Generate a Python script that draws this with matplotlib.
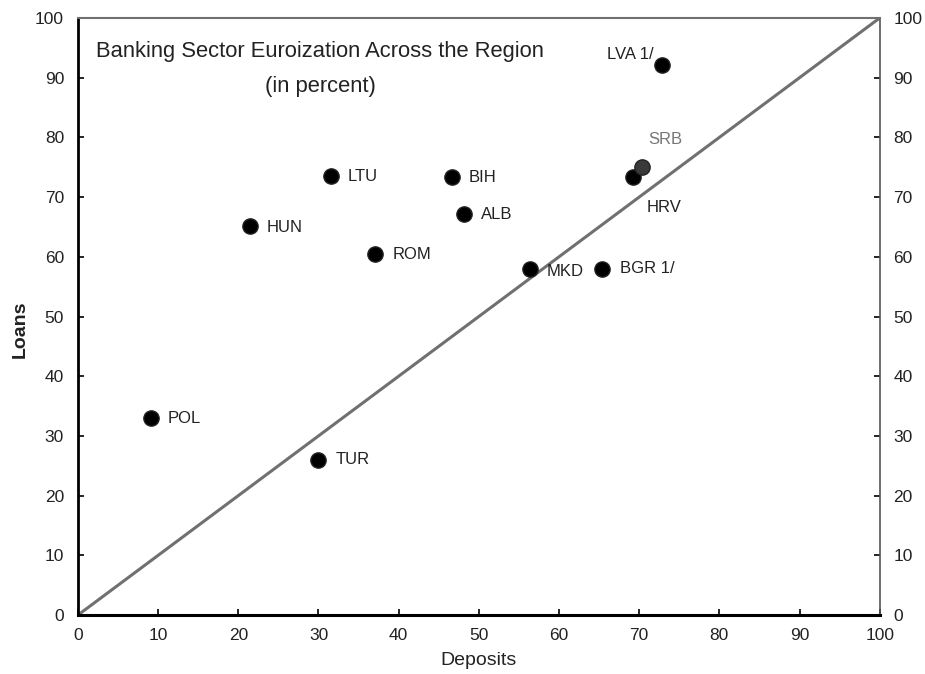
import numpy as np
import matplotlib.pyplot as plt

countries = ['POL', 'TUR', 'HUN', 'LTU', 'ROM', 'BIH', 'ALB', 'MKD', 'BGR 1/', 'HRV', 'SRB', 'LVA 1/']
deposits = np.array([9.1, 29.9, 21.4, 31.5, 37.0, 46.6, 48.2, 56.4, 65.4, 69.2, 70.4, 72.9])
loans = np.array([33.0, 26.0, 65.1, 73.5, 60.4, 73.3, 67.1, 58.0, 58.0, 73.3, 75.0, 92.2])

# label offsets in points (dx, dy, ha)
offsets = {
    'POL': (12, 0, 'left'), 'TUR': (13, 0, 'left'), 'HUN': (12, -1, 'left'),
    'LTU': (12, 0, 'left'), 'ROM': (13, 0, 'left'), 'BIH': (12, 0, 'left'),
    'ALB': (12, 0, 'left'), 'MKD': (12, -2, 'left'), 'BGR 1/': (13, 0, 'left'),
    'HRV': (10, -22, 'left'), 'SRB': (4, 20, 'left'), 'LVA 1/': (-6, 7, 'right'),
}

plt.rcParams['font.family'] = ['Liberation Sans', 'DejaVu Sans']

fig = plt.figure(figsize=(9.25, 6.74), dpi=100)
ax = fig.add_axes([0.0843, 0.0875, 0.8667, 0.8858])

ax.plot([0, 100], [0, 100], color='#707070', lw=2.2, zorder=1)

for c, x, y in zip(countries, deposits, loans):
    col = '#3a3a3a' if c == 'SRB' else 'black'
    tcol = '#777777' if c == 'SRB' else '#222222'
    ax.plot(x, y, marker='o', ms=11, color=col, mec='#222222', zorder=3)
    dx, dy, ha = offsets[c]
    ax.annotate(c, (x, y), xytext=(dx, dy), textcoords='offset points',
                ha=ha, va='center', fontsize=12, color=tcol)

ax.set_xlim(0, 100)
ax.set_ylim(0, 100)
ax.set_xticks(range(0, 101, 10))
ax.set_yticks(range(0, 101, 10))
ax.tick_params(direction='in', length=4, width=1.2, labelsize=12.5, labelcolor='#222222',
               top=False, right=True, labelright=True)
ax.tick_params(axis='y', pad=10)
ax.tick_params(axis='x', pad=9)

ax.spines['left'].set_linewidth(2)
ax.spines['bottom'].set_linewidth(2.2)
ax.spines['top'].set_color('#707070')
ax.spines['top'].set_linewidth(1.5)
ax.spines['right'].set_color('#555555')
ax.spines['right'].set_linewidth(1.2)

ax.text(0.302, 0.944, 'Banking Sector Euroization Across the Region', transform=ax.transAxes,
        ha='center', va='center', fontsize=15.8, color='#222222')
ax.text(0.302, 0.885, '(in percent)', transform=ax.transAxes,
        ha='center', va='center', fontsize=15.8, color='#222222')

ax.set_xlabel('Deposits', fontsize=14, color='#222222')
ax.xaxis.set_label_coords(0.5, -0.062)
ax.set_ylabel('Loans', fontsize=14, fontweight='bold', color='#222222')
ax.yaxis.set_label_coords(-0.062, 0.478)

fig.savefig('out.png', dpi=100)
